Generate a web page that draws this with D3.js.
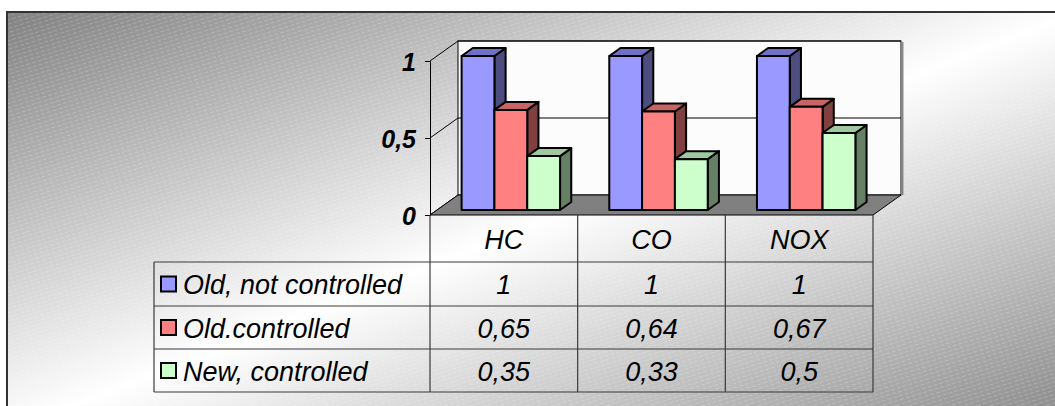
<!DOCTYPE html>
<html>
<head>
<meta charset="utf-8">
<script src="https://cdn.jsdelivr.net/npm/d3@7"></script>
<style>
  html, body { margin: 0; padding: 0; background: #ffffff; }
  svg { display: block; }
  text { font-family: "Liberation Sans", Arial, sans-serif; }
</style>
</head>
<body>
<svg id="chart" width="1055" height="406"></svg>
<script>
// Emission ratios by vehicle class
const categories = ["HC", "CO", "NOX"];
const seriesNames = ["Old, not controlled", "Old.controlled", "New, controlled"];
const oldNotControlled = [1, 1, 1];
const oldControlled = [0.65, 0.64, 0.67];
const newControlled = [0.35, 0.33, 0.5];
const yTicks = [0, 0.5, 1];

const seriesValues = [oldNotControlled, oldControlled, newControlled];
const faceColors = [
  { front: "#9999ff", top: "#7070c6", side: "#4d4d80" },
  { front: "#ff8080", top: "#c86464", side: "#804040" },
  { front: "#ccffcc", top: "#a0c8a0", side: "#668066" }
];

const fmt = v => String(v).replace(".", ",");

const svg = d3.select("#chart");
const defs = svg.append("defs");

// Diagonal backdrop: grey corners, white band along the anti-diagonal
const grad = defs.append("linearGradient")
  .attr("id", "bg").attr("x1", 0).attr("y1", 0).attr("x2", 1).attr("y2", 1);
grad.append("stop").attr("offset", 0).attr("stop-color", "#828282");
grad.append("stop").attr("offset", 0.5).attr("stop-color", "#ffffff");
grad.append("stop").attr("offset", 1).attr("stop-color", "#868686");

// Fine dashed texture over the backdrop
const pat = defs.append("pattern")
  .attr("id", "tex").attr("patternUnits", "userSpaceOnUse")
  .attr("width", 6).attr("height", 4)
  .attr("patternTransform", "rotate(-17)");
pat.append("line").attr("x1", 0).attr("x2", 4).attr("y1", 1.5).attr("y2", 1.5)
  .attr("stroke", "#ffffff").attr("stroke-width", 1).attr("stroke-opacity", 0.18);

const frame = { x: 7, y: 12, w: 1070, h: 420 };
svg.append("rect").attr("x", frame.x).attr("y", frame.y)
  .attr("width", frame.w).attr("height", frame.h).attr("fill", "url(#bg)");
svg.append("rect").attr("x", frame.x).attr("y", frame.y)
  .attr("width", frame.w).attr("height", frame.h).attr("fill", "url(#tex)");
svg.append("rect").attr("x", frame.x).attr("y", frame.y)
  .attr("width", frame.w).attr("height", frame.h)
  .attr("fill", "none").attr("stroke", "#333333").attr("stroke-width", 2);

// 3-D plot geometry
const x = d3.scaleBand().domain(categories).range([430, 873]);
const y = d3.scaleLinear().domain([0, 1]).range([215, 61]);
const depth = { dx: 28, dy: -20 };
const P = (px, py, d) => [px + d * depth.dx, py + d * depth.dy];

const plot = svg.append("g");

// Back wall
const wallTL = P(x.range()[0], y(1), 1);
const wallBR = P(x.range()[1], y(0), 1);
plot.append("rect")
  .attr("x", wallTL[0]).attr("y", wallTL[1])
  .attr("width", wallBR[0] - wallTL[0]).attr("height", wallBR[1] - wallTL[1])
  .attr("fill", "#fcfcfc").attr("stroke", "#000").attr("stroke-width", 1);
plot.append("line")
  .attr("x1", wallBR[0] + 1.5).attr("x2", wallBR[0] + 1.5)
  .attr("y1", wallTL[1] + 1).attr("y2", wallBR[1])
  .attr("stroke", "#8a8a8a").attr("stroke-width", 2);

// Gridlines on the back wall and side edges
yTicks.forEach(t => {
  const a = P(x.range()[0], y(t), 0);
  const b = P(x.range()[0], y(t), 1);
  const c = P(x.range()[1], y(t), 1);
  if (t > 0) {
    plot.append("line").attr("x1", b[0]).attr("y1", b[1]).attr("x2", c[0]).attr("y2", c[1])
      .attr("stroke", "#000").attr("stroke-width", 1);
  }
  plot.append("line").attr("x1", a[0]).attr("y1", a[1]).attr("x2", b[0]).attr("y2", b[1])
    .attr("stroke", "#000").attr("stroke-width", 1);
});

// Floor
const floorPts = [
  P(x.range()[0], y(0), 0), P(x.range()[1], y(0), 0),
  P(x.range()[1], y(0), 1), P(x.range()[0], y(0), 1)
];
plot.append("polygon").attr("points", floorPts.map(p => p.join(",")).join(" "))
  .attr("fill", "#808080").attr("stroke", "#000").attr("stroke-width", 1);

// Value axis on the front plane
const axis = d3.axisLeft(y).tickValues(yTicks).tickFormat(fmt).tickSize(5).tickPadding(9);
const ag = plot.append("g").attr("transform", `translate(${x.range()[0]},0)`).call(axis);
ag.select(".domain").attr("stroke", "#000");
ag.selectAll(".tick line").attr("stroke", "#000");
ag.selectAll(".tick text")
  .attr("font-family", "'Liberation Sans', Arial, sans-serif")
  .attr("font-size", 25).attr("font-weight", "bold").attr("font-style", "italic")
  .attr("fill", "#000").attr("dy", "0.36em");

// Bars: front face sits a quarter into the floor depth, extends to 0.65
const bw = x.bandwidth() / 4.5;
const d0 = 0.25, d1 = 0.65;
const ddx = (d1 - d0) * depth.dx, ddy = (d1 - d0) * depth.dy;
const bars = plot.append("g");
categories.forEach((cat, ci) => {
  seriesValues.forEach((vals, si) => {
    const v = vals[ci];
    const fx = x(cat) + 0.75 * bw + si * bw;
    const [x0, yt] = P(fx, y(v), d0);
    const [, yb] = P(fx, y(0), d0);
    const x1 = x0 + bw;
    const col = faceColors[si];
    const g = bars.append("g").attr("stroke", "#000").attr("stroke-width", 2)
      .attr("stroke-linejoin", "round");
    g.append("polygon")
      .attr("points", [[x1, yt], [x1 + ddx, yt + ddy], [x1 + ddx, yb + ddy], [x1, yb]].map(p => p.join(",")).join(" "))
      .attr("fill", col.side);
    g.append("polygon")
      .attr("points", [[x0, yt], [x1, yt], [x1 + ddx, yt + ddy], [x0 + ddx, yt + ddy]].map(p => p.join(",")).join(" "))
      .attr("fill", col.top);
    g.append("rect").attr("x", x0).attr("y", yt).attr("width", bw).attr("height", yb - yt)
      .attr("fill", col.front);
  });
});

// Data table
const tableLeft = 154;
const rowEdges = [215, 262, 306, 349, 392];
const colEdges = [x.range()[0]].concat(categories.map(c => x(c) + x.bandwidth()));
const tbl = svg.append("g");
const lineCol = "#3a3a3a";

// Horizontal rules
rowEdges.slice(1).forEach(ry => {
  tbl.append("line").attr("x1", tableLeft).attr("x2", x.range()[1])
    .attr("y1", ry).attr("y2", ry).attr("stroke", lineCol).attr("stroke-width", 1.2);
});
// Vertical rules
tbl.append("line").attr("x1", tableLeft).attr("x2", tableLeft)
  .attr("y1", rowEdges[1]).attr("y2", rowEdges[4]).attr("stroke", lineCol).attr("stroke-width", 1.2);
colEdges.forEach(cx => {
  tbl.append("line").attr("x1", cx).attr("x2", cx)
    .attr("y1", rowEdges[0]).attr("y2", rowEdges[4]).attr("stroke", lineCol).attr("stroke-width", 1.2);
});

const cellText = (sel) => sel
  .attr("font-family", "'Liberation Sans', Arial, sans-serif")
  .attr("font-style", "italic").attr("font-size", 27).attr("fill", "#000")
  .attr("dominant-baseline", "central");

// Header: category names
categories.forEach(cat => {
  tbl.append("text").attr("x", x(cat) + x.bandwidth() / 2)
    .attr("y", (rowEdges[0] + rowEdges[1]) / 2 + 1)
    .attr("text-anchor", "middle").text(cat).call(cellText);
});

// Series rows with legend keys
seriesNames.forEach((name, si) => {
  const cy = (rowEdges[si + 1] + rowEdges[si + 2]) / 2;
  tbl.append("rect").attr("x", 161).attr("y", cy - 7.5).attr("width", 15).attr("height", 15)
    .attr("fill", faceColors[si].front).attr("stroke", "#000").attr("stroke-width", 2);
  tbl.append("text").attr("x", 183).attr("y", cy + 1).attr("text-anchor", "start")
    .text(name).call(cellText);
  categories.forEach((cat, ci) => {
    tbl.append("text").attr("x", x(cat) + x.bandwidth() / 2).attr("y", cy + 1)
      .attr("text-anchor", "middle").text(fmt(seriesValues[si][ci])).call(cellText);
  });
});
</script>
</body>
</html>
